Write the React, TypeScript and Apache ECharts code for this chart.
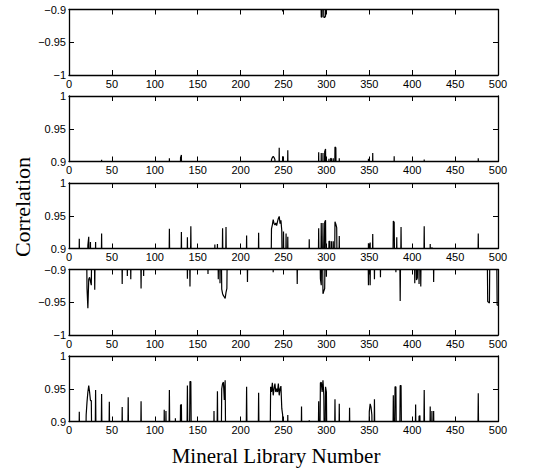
import React, { useEffect, useRef } from "react";
import * as echarts from "echarts";

// Library numbers 1..500; points listed below are the ones that rise into view.
const libraryCount = 500;
const xTicks = [0, 50, 100, 150, 200, 250, 300, 350, 400, 450, 500];

const panel1Peaks: [number, number][] = [
  [249, -0.903], [294, -0.912], [295, -0.911], [297, -0.912], [298, -0.912], [299, -0.91],
];

const panel2Peaks: [number, number][] = [
  [38, 0.9025], [117, 0.905], [130, 0.906], [131, 0.91], [236, 0.903], [237, 0.906], [238, 0.908],
  [239, 0.906], [240, 0.903], [245, 0.921], [249, 0.908], [255, 0.917], [291, 0.914], [294, 0.913],
  [296, 0.913], [298, 0.915], [299, 0.919], [303, 0.904], [305, 0.905], [306, 0.904], [308, 0.905],
  [310, 0.922], [311, 0.921], [315, 0.905], [349, 0.904], [354, 0.913], [379, 0.908], [414, 0.903],
  [477, 0.905],
];

const panel3Peaks: [number, number][] = [
  [12, 0.915], [22, 0.905], [23, 0.918], [25, 0.91], [31, 0.91], [38, 0.923], [117, 0.93],
  [131, 0.925], [138, 0.917], [142, 0.934], [170, 0.906], [173, 0.907], [179, 0.931], [183, 0.933],
  [207, 0.92], [221, 0.924], [236, 0.93], [237, 0.936], [238, 0.944], [239, 0.938], [240, 0.936],
  [241, 0.939], [242, 0.935], [243, 0.941], [244, 0.946], [245, 0.949], [246, 0.938], [247, 0.943],
  [248, 0.927], [250, 0.926], [253, 0.923], [255, 0.918], [280, 0.914], [291, 0.931], [294, 0.939],
  [296, 0.939], [298, 0.94], [299, 0.943], [303, 0.911], [304, 0.911], [306, 0.911], [308, 0.911],
  [310, 0.941], [311, 0.937], [312, 0.932], [315, 0.919], [349, 0.908], [351, 0.909], [354, 0.922],
  [378, 0.942], [379, 0.94], [382, 0.917], [387, 0.933], [414, 0.934], [421, 0.907], [423, 0.902],
  [477, 0.923],
];

const panel4Peaks: [number, number][] = [
  [21, -0.929], [22, -0.959], [23, -0.915], [24, -0.912], [25, -0.918], [26, -0.924], [30, -0.931],
  [62, -0.922], [68, -0.91], [72, -0.915], [84, -0.929], [87, -0.91], [138, -0.914], [141, -0.926],
  [162, -0.907], [174, -0.915], [176, -0.921], [178, -0.93], [179, -0.937], [180, -0.94], [181, -0.942],
  [182, -0.944], [183, -0.935], [184, -0.929], [208, -0.919], [238, -0.904], [266, -0.922],
  [293, -0.914], [294, -0.924], [296, -0.937], [297, -0.933], [298, -0.929], [300, -0.911],
  [349, -0.924], [351, -0.924], [356, -0.915], [363, -0.912], [381, -0.904], [386, -0.948],
  [403, -0.921], [405, -0.916], [406, -0.913], [408, -0.922], [410, -0.926], [425, -0.919],
  [488, -0.949], [489, -0.95], [490, -0.951], [499, -0.954], [500, -0.955],
];

const panel5Peaks: [number, number][] = [
  [12, 0.915], [20, 0.91], [21, 0.93], [22, 0.945], [23, 0.955], [24, 0.945], [25, 0.932], [26, 0.932],
  [31, 0.948], [38, 0.942], [47, 0.93], [62, 0.922], [69, 0.937], [84, 0.931], [111, 0.918],
  [113, 0.916], [117, 0.948], [124, 0.905], [130, 0.925], [131, 0.926], [138, 0.955], [141, 0.961],
  [142, 0.961], [169, 0.916], [173, 0.946], [178, 0.95], [179, 0.958], [180, 0.96], [181, 0.933],
  [182, 0.963], [207, 0.953], [221, 0.944], [235, 0.953], [236, 0.945], [237, 0.959], [238, 0.94],
  [239, 0.95], [240, 0.958], [241, 0.945], [242, 0.95], [243, 0.945], [244, 0.958], [245, 0.94],
  [246, 0.95], [247, 0.954], [248, 0.92], [249, 0.91], [255, 0.91], [271, 0.923], [280, 0.902],
  [291, 0.931], [293, 0.959], [294, 0.96], [295, 0.945], [296, 0.963], [297, 0.94], [299, 0.953],
  [300, 0.945], [310, 0.934], [315, 0.927], [327, 0.921], [350, 0.915], [351, 0.927], [352, 0.922],
  [353, 0.91], [356, 0.934], [378, 0.94], [380, 0.953], [381, 0.953], [386, 0.955], [387, 0.955],
  [404, 0.926], [408, 0.908], [409, 0.909], [414, 0.948], [421, 0.923], [423, 0.916], [425, 0.916],
  [477, 0.943],
];

// y ranges of each panel [min, max, below-range baseline]
const panelRanges: [number, number, number][] = [
  [-1, -0.9, -0.8],
  [0.9, 1, 0.8],
  [0.9, 1, 0.8],
  [-1, -0.9, -0.8],
  [0.9, 1, 0.8],
];
const panelPeaks = [panel1Peaks, panel2Peaks, panel3Peaks, panel4Peaks, panel5Peaks];

function buildSeries(peaks: [number, number][], base: number): [number, number][] {
  const arr: [number, number][] = [];
  for (let i = 1; i <= libraryCount; i++) arr.push([i, base]);
  peaks.forEach(([x, v]) => {
    arr[x - 1] = [x, v];
  });
  return arr;
}

const fmtY = (v: number) => {
  const r = Math.round(v * 100) / 100;
  let s = String(r);
  if (r < 0) s = "\u2212" + s.slice(1);
  return s;
};

export default function App() {
  const ref = useRef<HTMLDivElement>(null);
  useEffect(() => {
    if (!ref.current) return;
    const chart = echarts.init(ref.current, null, { renderer: "svg" });
    const tops = [9.5, 96, 183, 269.5, 356];
    const H = 65.5;
    const grids: any[] = [];
    const xAxes: any[] = [];
    const yAxes: any[] = [];
    const series: any[] = [];
    const lineStyle = { color: "#000", width: 1.3 };
    const font = { fontFamily: "Liberation Sans, Arial, sans-serif", fontSize: 11, color: "#000" };
    tops.forEach((top, i) => {
      grids.push({ left: 69, width: 429, top, height: H, containLabel: false });
      xAxes.push({
        type: "value", gridIndex: i, min: 0, max: 500, interval: 50, position: "bottom",
        axisLine: { show: true, onZero: false, lineStyle },
        axisTick: { show: true, inside: true, length: 5, lineStyle: { color: "#000", width: 1 } },
        axisLabel: { ...font, margin: 3, showMinLabel: true, showMaxLabel: true,
          formatter: (v: number) => (xTicks.includes(v) ? String(v) : "") },
        splitLine: { show: false },
      });
      xAxes.push({
        type: "value", gridIndex: i, min: 0, max: 500, interval: 50, position: "top",
        axisLine: { show: true, onZero: false, lineStyle },
        axisTick: { show: true, inside: true, length: 5, lineStyle: { color: "#000", width: 1 } },
        axisLabel: { show: false },
        splitLine: { show: false },
      });
      const [mn, mx] = panelRanges[i];
      yAxes.push({
        type: "value", gridIndex: i, min: mn, max: mx, interval: 0.05, position: "left",
        axisLine: { show: true, onZero: false, lineStyle },
        axisTick: { show: true, inside: true, length: 5, lineStyle: { color: "#000", width: 1 } },
        axisLabel: { ...font, margin: 3, formatter: fmtY, showMinLabel: true, showMaxLabel: true },
        splitLine: { show: false },
      });
      yAxes.push({
        type: "value", gridIndex: i, min: mn, max: mx, interval: 0.05, position: "right",
        axisLine: { show: true, onZero: false, lineStyle },
        axisTick: { show: true, inside: true, length: 5, lineStyle: { color: "#000", width: 1 } },
        axisLabel: { show: false },
        splitLine: { show: false },
      });
      series.push({
        type: "line",
        xAxisIndex: 2 * i,
        yAxisIndex: 2 * i,
        data: buildSeries(panelPeaks[i], panelRanges[i][2]),
        showSymbol: false,
        symbol: "none",
        clip: true,
        lineStyle: { color: "#000", width: 1.2 },
        silent: true,
      });
    });
    chart.setOption({
      animation: false,
      backgroundColor: "#fff",
      grid: grids,
      xAxis: xAxes,
      yAxis: yAxes,
      series,
      graphic: [
        {
          type: "text", x: 22, y: 207, rotation: Math.PI / 2,
          style: { text: "Correlation", font: "22px 'Liberation Serif', 'Times New Roman', serif",
            fill: "#000", align: "center", verticalAlign: "middle" },
        },
        {
          type: "text", x: 276, y: 456,
          style: { text: "Mineral Library Number", font: "21px 'Liberation Serif', 'Times New Roman', serif",
            fill: "#000", align: "center", verticalAlign: "middle" },
        },
      ],
    });
    return () => chart.dispose();
  }, []);
  return <div ref={ref} style={{ width: 548, height: 474, position: "absolute", left: 0, top: 0 }} />;
}
